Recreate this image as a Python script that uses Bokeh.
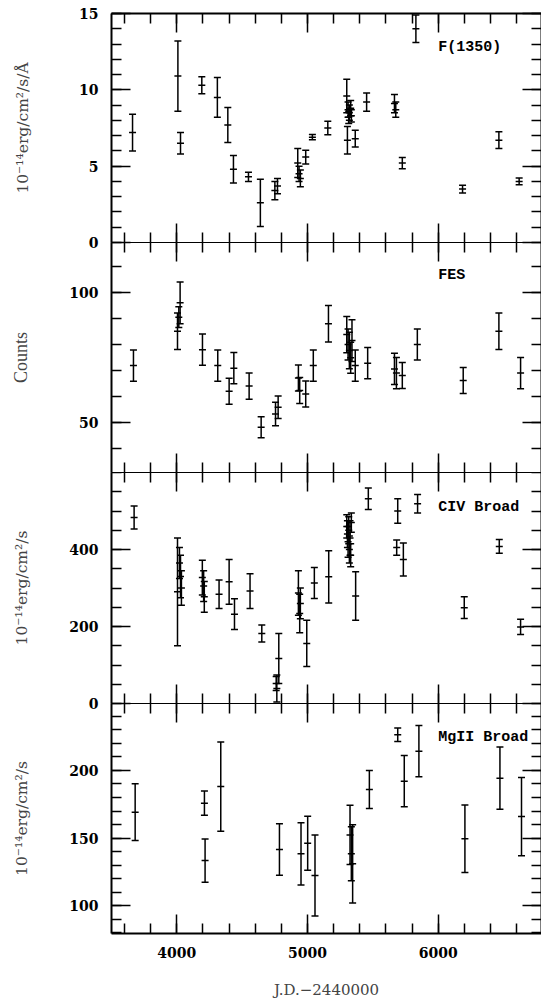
from bokeh.plotting import figure
from bokeh.models import (Range1d, LinearAxis, FixedTicker, ColumnDataSource, Label,
                          CustomJSTickFormatter)
from bokeh.layouts import column
from bokeh.embed import file_html
from bokeh.resources import INLINE

# ---------------- data ----------------
f1350_jd = [3661, 4008, 4028, 4191, 4310, 4390, 4433, 4548, 4639, 4750, 4770, 4925, 4935, 4945,
            4986, 5037, 5155, 5300, 5305, 5310, 5315, 5320, 5330, 5335, 5365, 5452, 5665, 5675,
            5725, 5829, 6186, 6464, 6619]
f1350_val = [7.2, 10.9, 6.5, 10.3, 9.5, 7.7, 4.8, 4.3, 2.6, 3.4, 3.7, 5.2, 4.5, 4.2,
             5.6, 6.9, 7.5, 9.6, 6.7, 8.7, 8.2, 8.5, 8.8, 8.3, 6.8, 9.2, 9.1, 8.7,
             5.2, 14.0, 3.5, 6.7, 4.0]
f1350_err = [1.2, 2.3, 0.7, 0.55, 1.3, 1.15, 0.9, 0.3, 1.55, 0.6, 0.5, 0.95, 0.5, 0.55,
             0.45, 0.17, 0.45, 1.1, 0.9, 0.5, 0.4, 0.5, 0.5, 0.4, 0.55, 0.6, 0.6, 0.5,
             0.37, 0.9, 0.25, 0.55, 0.22]

fes_jd = [3668, 4005, 4015, 4025, 4196, 4313, 4400, 4436, 4553, 4645, 4755, 4775, 4930, 4940,
          4986, 5044, 5160, 5300, 5310, 5320, 5330, 5340, 5365, 5460, 5665, 5680, 5725, 5840,
          6191, 6464, 6630]
fes_val = [71.9, 85.1, 90.5, 96.0, 78.0, 71.9, 62.0, 70.9, 64.0, 48.2, 53.3, 55.9, 67.1, 62.3,
           61.0, 71.9, 88.0, 83.8, 80.0, 77.7, 74.9, 81.5, 71.9, 72.8, 70.6, 69.0, 68.1, 80.0,
           66.2, 85.1, 69.0]
fes_err = [6, 7, 4, 8, 6, 6, 5, 6, 5, 4, 4.5, 4.3, 5, 5,
           5, 6, 7, 7, 6, 7, 6, 8, 6, 6, 6, 6, 5, 6,
           5, 7, 6]

civ_jd = [3673, 4005, 4020, 4028, 4035, 4195, 4205, 4210, 4323, 4400, 4441, 4560, 4650, 4760,
          4765, 4780, 4930, 4940, 4945, 4994, 5052, 5162, 5300, 5305, 5310, 5315, 5320, 5325,
          5330, 5335, 5368, 5465, 5682, 5690, 5733, 5842, 6199, 6467, 6630]
civ_val = [483, 290, 365, 330, 300, 327, 305, 277, 284, 316, 232, 292, 182, 52,
           39, 117, 287, 234, 260, 156, 313, 329, 460, 440, 420, 450, 400, 430,
           385, 470, 279, 532, 405, 500, 374, 519, 249, 408, 199]
civ_err = [30, 140, 40, 55, 45, 45, 40, 40, 37, 58, 40, 45, 22, 18,
           35, 65, 58, 50, 40, 60, 40, 68, 30, 35, 40, 35, 35, 45,
           30, 25, 63, 28, 20, 32, 43, 24, 28, 18, 20]

mg_jd = [3681, 4211, 4216, 4336, 4785, 4950, 5001, 5057, 5325, 5335, 5345, 5473, 5690, 5740,
         5852, 6204, 6472, 6637]
mg_val = [169.1, 175.8, 133.3, 188.1, 141.5, 138.3, 146.2, 122.2, 152.3, 138.3, 130.9, 185.9,
          226.4, 192.1, 214.3, 149.4, 194.3, 165.9]
mg_err = [21, 9, 16, 33, 19, 23, 20, 30, 22, 20, 29, 14, 5, 19, 19, 25, 23, 29]

x_major = [4000, 5000, 6000]
x_minor = list(range(3600, 6800, 200))
x_title = "J.D.\u22122440000"

FLUX_LABEL = "10\u207b\u00b9\u2074erg/cm\u00b2/s"

panels = [
    dict(jd=f1350_jd, val=f1350_val, err=f1350_err, yr=(0, 15), major=[0, 5, 10, 15],
         minor=list(range(0, 16)), ylabel=FLUX_LABEL + "/\u00c5", name="F(1350)", ly=12.8,
         fh=229, top=13, std=44, lfont="DejaVu Serif", lsize="15.5px"),
    dict(jd=fes_jd, val=fes_val, err=fes_err, yr=(30.8, 119.2), major=[50, 100],
         minor=list(range(40, 120, 10)), ylabel="Counts", name="FES", ly=106.5,
         fh=230, top=0, std=35, lfont="Liberation Serif", lsize="18px"),
    dict(jd=civ_jd, val=civ_val, err=civ_err, yr=(0, 600), major=[0, 200, 400],
         minor=list(range(0, 601, 50)), ylabel=FLUX_LABEL, name="CIV Broad", ly=510,
         fh=231, top=0, std=35, lfont="DejaVu Serif", lsize="15.5px"),
    dict(jd=mg_jd, val=mg_val, err=mg_err, yr=(79.3, 249.6), major=[100, 150, 200],
         minor=list(range(80, 250, 10)), ylabel=FLUX_LABEL, name="MgII Broad", ly=224.5,
         fh=230, top=0, std=35, lfont="DejaVu Serif", lsize="15.5px"),
]

TICK_FONT = "DejaVu Serif"
OVERLAP = 10
blank = CustomJSTickFormatter(code="return ''")


def style_axis(ax, labels, lw=1.5):
    ax.axis_line_width = lw
    ax.axis_line_color = "black"
    ax.major_tick_in = 19
    ax.major_tick_out = 0
    ax.minor_tick_in = 10
    ax.minor_tick_out = 0
    ax.major_tick_line_width = 1.5
    ax.minor_tick_line_width = 1.5
    ax.major_tick_line_color = "black"
    ax.minor_tick_line_color = "black"
    if labels:
        ax.major_label_text_font = TICK_FONT
        ax.major_label_text_font_style = "bold"
        ax.major_label_text_font_size = "14px"
        ax.major_label_text_color = "black"
        ax.major_label_standoff = 13
    else:
        ax.formatter = blank
        ax.major_label_text_font_size = "1px"
        ax.major_label_standoff = 0


figs = []
n = len(panels)
for i, pc in enumerate(panels):
    last = i == n - 1
    p = figure(frame_width=430, frame_height=pc["fh"],
               x_range=Range1d(3500, 6790), y_range=Range1d(*pc["yr"]),
               output_backend="svg", toolbar_location=None,
               min_border_left=111, min_border_right=0,
               min_border_top=pc["top"],
               min_border_bottom=0 if last else OVERLAP,
               margin=(0, 0, 0 if last else -OVERLAP, 0))
    p.outline_line_color = None
    p.xgrid.visible = False
    p.ygrid.visible = False
    p.background_fill_color = None
    p.border_fill_color = None

    xt = FixedTicker(ticks=x_major, minor_ticks=x_minor)
    yt = FixedTicker(ticks=pc["major"], minor_ticks=pc["minor"])

    # bottom axis
    p.xaxis.ticker = xt
    style_axis(p.xaxis[0], last, lw=2 if last else 1)
    if last:
        p.xaxis.axis_label = x_title
        p.xaxis.axis_label_text_font = TICK_FONT
        p.xaxis.axis_label_text_font_style = "normal"
        p.xaxis.axis_label_text_font_size = "15px"
        p.xaxis.axis_label_standoff = 20

    # top axis
    top_ax = LinearAxis(ticker=xt)
    style_axis(top_ax, False, lw=2 if i == 0 else 1)
    p.add_layout(top_ax, "above")

    # left axis
    p.yaxis.ticker = yt
    style_axis(p.yaxis[0], True, lw=2)
    p.yaxis.axis_label = pc["ylabel"]
    p.yaxis.axis_label_text_font = pc["lfont"]
    p.yaxis.axis_label_text_font_style = "normal"
    p.yaxis.axis_label_text_font_size = pc["lsize"]
    p.yaxis.axis_label_standoff = pc["std"]

    # right axis
    right_ax = LinearAxis(ticker=yt)
    style_axis(right_ax, False, lw=2)
    p.add_layout(right_ax, "right")

    src = ColumnDataSource(dict(
        x=pc["jd"], y=pc["val"],
        lo=[v - e for v, e in zip(pc["val"], pc["err"])],
        hi=[v + e for v, e in zip(pc["val"], pc["err"])],
    ))
    p.segment(x0="x", y0="lo", x1="x", y1="hi", source=src, line_color="black", line_width=1.5)
    p.scatter(x="x", y="lo", source=src, marker="dash", size=7, line_color="black", line_width=1.5)
    p.scatter(x="x", y="hi", source=src, marker="dash", size=7, line_color="black", line_width=1.5)
    p.scatter(x="x", y="y", source=src, marker="dash", size=7, line_color="black", line_width=1.5)

    p.add_layout(Label(x=6000, y=pc["ly"], text=pc["name"], text_font="Liberation Mono",
                       text_font_style="bold", text_font_size="15px", text_baseline="middle",
                       text_align="left", text_color="black"))
    figs.append(p)

layout = column(*figs, spacing=0)
html = file_html(layout, INLINE, title="AGN light curves")
html = html.replace("<head>", "<head><style>html,body{overflow:hidden;background:white}</style>", 1)
open("out.html", "w").write(html)
